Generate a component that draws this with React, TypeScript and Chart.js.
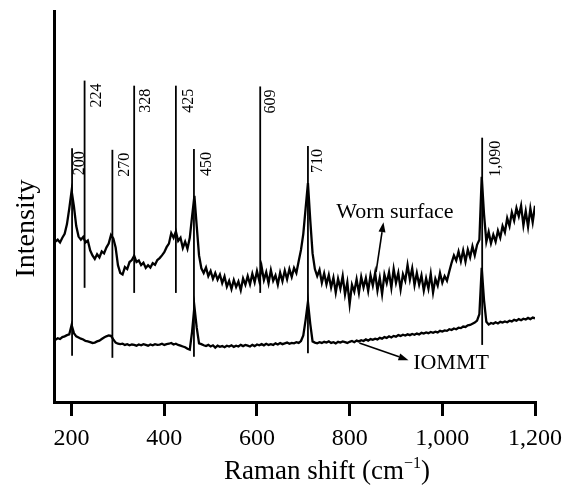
import React, { useEffect, useRef } from 'react';
import { Chart, registerables } from 'chart.js';

Chart.register(...registerables);

// Raman shift (cm^-1) sampling positions
const shift = [
  165, 170, 175, 180, 185, 190, 195, 200, 205, 210,
  215, 220, 225, 230, 235, 240, 245, 250, 255, 260,
  265, 270, 275, 280, 285, 290, 295, 300, 305, 310,
  315, 320, 325, 330, 335, 340, 345, 350, 355, 360,
  365, 370, 375, 380, 385, 390, 395, 400, 405, 410,
  415, 420, 425, 430, 435, 440, 445, 450, 455, 460,
  465, 470, 475, 480, 485, 490, 495, 500, 505, 510,
  515, 520, 525, 530, 535, 540, 545, 550, 555, 560,
  565, 570, 575, 580, 585, 590, 595, 600, 605, 610,
  615, 620, 625, 630, 635, 640, 645, 650, 655, 660,
  665, 670, 675, 680, 685, 690, 695, 700, 705, 710,
  715, 720, 725, 730, 735, 740, 745, 750, 755, 760,
  765, 770, 775, 780, 785, 790, 795, 800, 805, 810,
  815, 820, 825, 830, 835, 840, 845, 850, 855, 860,
  865, 870, 875, 880, 885, 890, 895, 900, 905, 910,
  915, 920, 925, 930, 935, 940, 945, 950, 955, 960,
  965, 970, 975, 980, 985, 990, 995, 1000, 1005, 1010,
  1015, 1020, 1025, 1030, 1035, 1040, 1045, 1050, 1055, 1060,
  1065, 1070, 1075, 1080, 1085, 1090, 1095, 1100, 1105, 1110,
  1115, 1120, 1125, 1130, 1135, 1140, 1145, 1150, 1155, 1160,
  1165, 1170, 1175, 1180, 1185, 1190, 1195, 1200,
];

// Worn surface spectrum (arbitrary intensity units)
const wornSurface = [
  41.0, 41.5, 40.8, 42.0, 43.0, 45.5, 49.5, 54.0, 50.0, 45.0,
  42.3, 41.5, 42.2, 40.8, 41.3, 38.8, 37.5, 36.6, 37.8, 37.0,
  38.5, 38.0, 39.5, 40.5, 42.7, 41.8, 39.5, 35.0, 33.0, 32.6,
  34.5, 34.0, 35.8, 36.3, 37.4, 35.8, 36.2, 35.0, 35.6, 34.3,
  35.0, 34.4, 35.5, 35.1, 36.3, 36.8, 37.5, 38.3, 39.6, 40.5,
  43.2, 42.0, 43.6, 41.2, 42.0, 39.4, 41.0, 39.2, 42.0, 47.5,
  52.7, 45.0, 37.5, 34.2, 33.0, 34.4, 32.2, 33.5, 31.5, 33.0,
  31.3, 32.6, 30.4, 32.1, 29.5, 31.0, 28.9, 31.2, 29.4, 30.8,
  28.6, 31.6, 30.0, 32.2, 30.1, 32.8, 30.6, 33.5, 31.0, 34.6,
  31.2, 33.2, 30.4, 33.7, 31.0, 32.4, 30.0, 33.1, 30.9, 33.6,
  31.4, 34.0, 32.0, 34.3, 33.0, 36.0, 38.9, 43.0, 49.5, 56.0,
  46.5, 38.0, 34.0, 32.2, 33.8, 30.5, 32.9, 30.1, 32.5, 29.3,
  31.8, 28.0, 31.5, 29.0, 32.2, 27.5, 30.6, 25.0, 30.0, 28.2,
  31.4, 27.9, 32.0, 29.3, 31.7, 28.4, 32.4, 29.8, 33.0, 28.5,
  31.8, 27.6, 32.6, 30.4, 33.2, 29.2, 34.0, 30.5, 33.0, 28.8,
  32.7, 31.0, 35.0, 31.3, 34.2, 29.9, 33.0, 30.0, 32.4, 28.5,
  31.6, 29.0, 32.8, 28.0, 31.5, 29.8, 33.0, 30.5, 32.2, 31.0,
  33.4, 35.6, 37.5, 36.2, 38.5, 36.0, 38.8, 35.9, 39.0, 37.0,
  39.8, 37.5, 40.2, 41.5, 57.6, 48.0, 41.0, 43.5, 40.6, 42.8,
  41.0, 43.8, 42.0, 45.0, 43.4, 47.0, 45.0, 48.5, 46.4, 49.6,
  47.5, 50.2, 45.2, 48.8, 44.8, 49.5, 46.0, 50.2,
];

// IOMMT spectrum (arbitrary intensity units)
const iommt = [
  15.9, 16.3, 16.1, 16.6, 16.8, 17.1, 17.3, 19.7, 17.6, 16.8,
  16.5, 16.2, 16.0, 15.6, 15.5, 15.3, 15.1, 15.2, 15.5, 15.7,
  16.1, 16.5, 16.8, 17.0, 16.9, 16.0, 15.2, 14.9, 14.8, 14.9,
  14.6, 14.8, 14.5, 14.7, 14.6, 14.4, 14.7, 14.5, 14.8, 14.6,
  14.4, 14.7, 14.5, 14.8, 14.6, 14.7, 14.9, 14.6, 14.8, 14.9,
  15.1, 14.7, 14.9, 14.6, 14.4, 14.2, 14.0, 13.6, 13.4, 18.0,
  24.4, 19.0, 15.0, 14.8, 14.5, 14.3, 14.6, 14.2, 14.5, 13.9,
  14.4, 14.1, 14.3, 14.0, 14.4, 14.2, 14.5, 14.1, 14.4, 14.2,
  14.6, 14.3, 14.6, 14.4, 14.2, 14.6, 14.3, 14.7, 14.5, 14.8,
  14.5, 14.9, 14.6, 14.8, 14.6, 15.0, 14.7, 15.1, 14.8, 15.0,
  15.2, 14.9, 15.1, 15.0, 15.3, 15.1, 15.6, 17.0, 21.0, 25.6,
  20.0, 15.5, 15.2, 15.0, 15.3, 15.1, 15.4, 15.2, 15.5, 15.1,
  15.3, 15.0, 15.4, 15.2, 15.5, 15.3, 15.1, 15.4, 15.6, 15.3,
  15.7, 15.5, 15.8, 15.6, 16.0, 15.7, 16.1, 15.9, 16.2, 16.0,
  16.4, 16.2, 16.6, 16.4, 16.8, 16.5, 16.9, 16.7, 17.1, 16.9,
  17.2, 17.0, 17.3, 17.1, 17.4, 17.2, 17.5, 17.3, 17.7, 17.5,
  17.8, 17.6, 17.9, 17.7, 18.0, 17.8, 18.2, 18.0, 18.3, 18.2,
  18.6, 18.4, 18.8, 18.6, 19.0, 18.9, 19.3, 19.2, 19.6, 19.7,
  20.0, 20.3, 20.8, 22.5, 34.3, 26.0, 20.5, 19.8, 20.2, 20.0,
  20.4, 20.1, 20.5, 20.3, 20.6, 20.4, 20.8, 20.6, 21.0, 20.8,
  21.2, 20.9, 21.3, 21.1, 21.5, 21.2, 21.6, 21.4,
];

const xTicks = [200, 400, 600, 800, 1000, 1200];

// Band marker lines
const bandPos = [201, 228, 288, 335, 425, 464, 607, 710, 1086];
const bandLabel = ['200', '224', '270', '328', '425', '450', '609', '710', '1,090'];
const bandTop = [64.9, 82.2, 64.5, 80.9, 80.9, 64.7, 80.7, 65.5, 67.6];
const bandBottom = [11.8, 29.2, 11.3, 27.9, 27.9, 11.6, 27.9, 12.5, 14.6];

// Curve annotations (text + arrow)
const noteText = ['Worn surface', 'IOMMT'];
const noteX = [771, 937];
const noteY = [47.1, 8.4];
const arrowFromX = [857, 821];
const arrowFromY = [33.2, 15.1];
const arrowToX = [873, 927];
const arrowToY = [46.0, 10.7];

const SERIF = "'Liberation Serif', 'Times New Roman', Times, serif";
const bandLabelGap = [12, 16, 17, 16, 17, 17, 15, 14, 18];

function drawArrow(ctx: CanvasRenderingContext2D, x1: number, y1: number, x2: number, y2: number) {
  const ang = Math.atan2(y2 - y1, x2 - x1);
  const len = 10;
  const hw = 3.5;
  const bx = x2 - len * Math.cos(ang);
  const by = y2 - len * Math.sin(ang);
  ctx.beginPath();
  ctx.moveTo(x1, y1);
  ctx.lineTo(bx, by);
  ctx.lineWidth = 1.6;
  ctx.stroke();
  ctx.beginPath();
  ctx.moveTo(x2, y2);
  ctx.lineTo(bx - hw * Math.sin(ang), by + hw * Math.cos(ang));
  ctx.lineTo(bx + hw * Math.sin(ang), by - hw * Math.cos(ang));
  ctx.closePath();
  ctx.fill();
}

const textPlugin = {
  id: 'ramanText',
  afterDraw(chart: any) {
    const ctx: CanvasRenderingContext2D = chart.ctx;
    const xs = chart.scales.x;
    const ys = chart.scales.y;
    const area = chart.chartArea;
    ctx.save();
    ctx.fillStyle = '#000';
    ctx.strokeStyle = '#000';

    // band labels
    ctx.font = `16px ${SERIF}`;
    bandPos.forEach((p, i) => {
      const px = xs.getPixelForValue(p);
      const py = ys.getPixelForValue(bandTop[i]);
      ctx.save();
      ctx.translate(px + bandLabelGap[i], py + 3);
      ctx.rotate(-Math.PI / 2);
      ctx.textAlign = 'right';
      ctx.textBaseline = 'alphabetic';
      ctx.fillText(bandLabel[i], 0, 0);
      ctx.restore();
    });

    // notes and arrows
    ctx.font = `22px ${SERIF}`;
    ctx.textAlign = 'left';
    ctx.textBaseline = 'alphabetic';
    noteText.forEach((t, i) => {
      ctx.fillText(t, xs.getPixelForValue(noteX[i]), ys.getPixelForValue(noteY[i]));
      drawArrow(
        ctx,
        xs.getPixelForValue(arrowFromX[i]),
        ys.getPixelForValue(arrowFromY[i]),
        xs.getPixelForValue(arrowToX[i]),
        ys.getPixelForValue(arrowToY[i])
      );
    });

    // y title
    ctx.save();
    ctx.font = `28px ${SERIF}`;
    ctx.translate(34, (area.top + area.bottom) / 2 + 22);
    ctx.rotate(-Math.PI / 2);
    ctx.textAlign = 'center';
    ctx.fillText('Intensity', 0, 0);
    ctx.restore();

    // x title with superscript
    const main = 'Raman shift (cm';
    const sup = '\u22121';
    const close = ')';
    const fMain = `27px ${SERIF}`;
    const fSup = `16px ${SERIF}`;
    ctx.font = fMain;
    const wMain = ctx.measureText(main).width;
    const wClose = ctx.measureText(close).width;
    ctx.font = fSup;
    const wSup = ctx.measureText(sup).width;
    const total = wMain + wSup + wClose;
    const cx = 327;
    const base = 479;
    let x0 = cx - total / 2;
    ctx.textAlign = 'left';
    ctx.font = fMain;
    ctx.fillText(main, x0, base);
    x0 += wMain;
    ctx.font = fSup;
    ctx.fillText(sup, x0, base - 11);
    x0 += wSup;
    ctx.font = fMain;
    ctx.fillText(close, x0, base);
    ctx.restore();
  },
};

export default function App() {
  const ref = useRef<HTMLCanvasElement | null>(null);

  useEffect(() => {
    document.body.style.margin = '0';
    const canvas = ref.current;
    if (!canvas) return;

    const curveStyle = {
      borderColor: '#000',
      borderWidth: 2.3,
      pointRadius: 0,
      fill: false,
      tension: 0,
    };

    const datasets: any[] = [
      {
        label: 'Worn surface',
        data: shift.map((x, i) => ({ x, y: wornSurface[i] })),
        ...curveStyle,
      },
      {
        label: 'IOMMT',
        data: shift.map((x, i) => ({ x, y: iommt[i] })),
        ...curveStyle,
      },
      ...bandPos.map((p, i) => ({
        label: 'band ' + bandLabel[i],
        data: [
          { x: p, y: bandBottom[i] },
          { x: p, y: bandTop[i] },
        ],
        borderColor: '#000',
        borderWidth: 1.8,
        pointRadius: 0,
        fill: false,
      })),
    ];

    const chart = new Chart(canvas, {
      type: 'line',
      data: { datasets },
      options: {
        animation: false,
        responsive: false,
        devicePixelRatio: 1,
        layout: { padding: { top: 11, right: 38, left: 0, bottom: 0 } },
        plugins: {
          legend: { display: false },
          tooltip: { enabled: false },
          title: { display: false },
        },
        scales: {
          x: {
            type: 'linear',
            min: 162,
            max: 1200,
            afterBuildTicks: (s: any) => {
              s.ticks = xTicks.map((v) => ({ value: v }));
            },
            afterFit: (s: any) => {
              s.height = 86;
            },
            grid: {
              display: true,
              drawOnChartArea: false,
              drawTicks: true,
              tickLength: 14,
              lineWidth: 3,
              color: '#000',
            },
            border: { display: true, width: 3, color: '#000' },
            ticks: {
              font: { family: SERIF, size: 24 },
              color: '#000',
              padding: 8,
              maxRotation: 0,
              autoSkip: false,
              callback: (v: any) => Number(v).toLocaleString('en-US'),
            },
          },
          y: {
            type: 'linear',
            min: 0,
            max: 100,
            afterFit: (s: any) => {
              s.width = 54;
            },
            ticks: { display: false },
            grid: { display: false, drawTicks: false },
            border: { display: true, width: 3, color: '#000' },
          },
        },
      },
      plugins: [textPlugin],
    });

    return () => {
      chart.destroy();
    };
  }, []);

  return (
    <div style={{ width: 573, height: 488, background: '#fff' }}>
      <canvas ref={ref} width={573} height={488} />
    </div>
  );
}
